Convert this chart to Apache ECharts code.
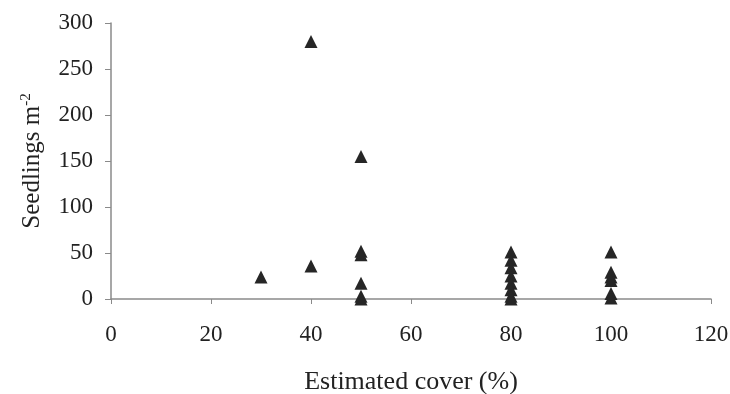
<!DOCTYPE html>
<html>
<head>
<meta charset="utf-8">
<script src="https://cdn.jsdelivr.net/npm/echarts@6/dist/echarts.min.js"></script>
<style>
  html, body { margin: 0; padding: 0; background: #fff; }
  #main { width: 730px; height: 394px; }
</style>
</head>
<body>
<div id="main"></div>
<script>
// cover (%) of each plot
let cover = [30, 40, 40, 50, 50, 50, 50, 50, 50,
    80, 80, 80, 80, 80, 80, 80, 80,
    100, 100, 100, 100, 100, 100];
// seedlings per m2
let seedlings = [24, 280, 36, 155, 52, 48, 17, 3, 0,
    51, 42, 34, 25, 17, 10, 3, 0,
    51, 29, 24, 20, 6, 1];

let xTicks = [0, 20, 40, 60, 80, 100, 120];
let yTicks = [0, 50, 100, 150, 200, 250, 300];

let points = cover.map((c, i) => [c, seedlings[i]]);

let font = 'Liberation Serif';
let axisGrey = '#8a8a8a';

let chart = echarts.init(document.getElementById('main'));
chart.setOption({
    animation: false,
    // fixed plot box, names and labels may sit outside it
    grid: { left: 111, right: 19, top: 23, bottom: 95, outerBoundsMode: 'none' },
    xAxis: {
        type: 'value',
        min: xTicks[0],
        max: xTicks[xTicks.length - 1],
        interval: 20,
        name: 'Estimated cover (%)',
        nameLocation: 'middle',
        nameGap: 70,
        nameTextStyle: { fontFamily: font, fontSize: 26, color: '#222' },
        axisLine: { show: true, lineStyle: { color: axisGrey, width: 1.5 } },
        axisTick: { show: true, length: 5, lineStyle: { color: axisGrey } },
        axisLabel: { fontFamily: font, fontSize: 23, color: '#222', margin: 24 },
        splitLine: { show: false }
    },
    yAxis: {
        type: 'value',
        min: yTicks[0],
        max: yTicks[yTicks.length - 1],
        interval: 50,
        name: 'Seedlings m{sup|-2}',
        nameLocation: 'middle',
        nameRotate: 90,
        nameGap: 65,
        nameTextStyle: {
            fontFamily: font, fontSize: 25, color: '#222',
            rich: { sup: { fontFamily: font, fontSize: 15, color: '#222', verticalAlign: 'top', padding: [0, 0, 12, 0] } }
        },
        axisLine: { show: true, lineStyle: { color: axisGrey, width: 1.5 } },
        axisTick: { show: true, length: 6, lineStyle: { color: axisGrey } },
        axisLabel: { fontFamily: font, fontSize: 23, color: '#222', margin: 18 },
        splitLine: { show: false }
    },
    series: [{
        type: 'scatter',
        data: points,
        symbol: 'triangle',
        symbolSize: [13, 13],
        itemStyle: { color: '#262626', opacity: 1 }
    }]
});
</script>
</body>
</html>
